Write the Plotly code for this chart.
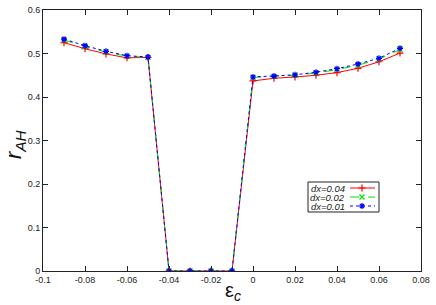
# r_AH against epsilon_c for three grid spacings

import plotly.graph_objects as go

eps_c = [-0.09, -0.08, -0.07, -0.06, -0.05, -0.04, -0.03, -0.02, -0.01,
         0.0, 0.01, 0.02, 0.03, 0.04, 0.05, 0.06, 0.07]

r_dx004 = [0.525, 0.511, 0.499, 0.490, 0.491, 0, 0, 0, 0,
           0.437, 0.443, 0.446, 0.450, 0.456, 0.466, 0.481, 0.501]
r_dx002 = [0.531, 0.516, 0.503, 0.494, 0.491, 0, 0, 0, 0,
           0.445, 0.447, 0.450, 0.455, 0.463, 0.473, 0.487, 0.509]
r_dx001 = [0.533, 0.518, 0.505, 0.495, 0.492, 0, 0, 0, 0,
           0.446, 0.448, 0.451, 0.457, 0.465, 0.476, 0.489, 0.512]

series_names = ["dx=0.04", "dx=0.02", "dx=0.01"]
x_ticks = [-0.1, -0.08, -0.06, -0.04, -0.02, 0, 0.02, 0.04, 0.06, 0.08]
x_labels = ["-0.1", "-0.08", "-0.06", "-0.04", "-0.02", "0", "0.02", "0.04", "0.06", "0.08"]
y_ticks = [0, 0.1, 0.2, 0.3, 0.4, 0.5, 0.6]
y_labels = ["0", "0.1", "0.2", "0.3", "0.4", "0.5", "0.6"]

colors = ["#ff0000", "#00e000", "#0000ff"]
dashes = ["solid", "dash", "dot"]
symbols = ["cross-thin-open", "x-thin-open", "asterisk-open"]

fig = go.Figure()
for ys, name, c, d, s in zip([r_dx004, r_dx002, r_dx001], series_names, colors, dashes, symbols):
    fig.add_trace(go.Scatter(x=eps_c, y=ys, mode="lines+markers", name=name, showlegend=False,
                             line=dict(color=c, width=1, dash=d),
                             marker=dict(symbol=s, size=5, line=dict(color=c, width=1.2))))

# gnuplot-like key: text on the left, sample on the right
# paper coords of the plot area: left 43px, right 421px, top 10px, bottom 271px
def px_x(p):
    return (p - 43) / 378

def px_y(p):
    return (271 - p) / 261

fig.add_shape(type="rect", xref="paper", yref="paper",
              x0=px_x(308), x1=px_x(379), y0=px_y(212), y1=px_y(182),
              line=dict(color="#222222", width=1), fillcolor="white", layer="below")
row_y = [188, 197, 206]
for name, c, d, s, ry in zip(series_names, colors, dashes, symbols, row_y):
    fig.add_annotation(text=name, xref="paper", yref="paper", x=px_x(346), y=px_y(ry),
                       xanchor="right", yanchor="middle", showarrow=False, borderpad=0,
                       font=dict(family="Liberation Sans", size=9.5, style="italic", color="#222222"))
    fig.add_shape(type="line", xref="paper", yref="paper",
                  x0=px_x(350), x1=px_x(375), y0=px_y(ry), y1=px_y(ry),
                  line=dict(color=c, width=1, dash=d), layer="below")
    fig.add_trace(go.Scatter(x=[px_x(362)], y=[px_y(ry)], xaxis="x2", yaxis="y2", mode="markers",
                             showlegend=False, hoverinfo="skip",
                             marker=dict(symbol=s, size=5, color=c, line=dict(color=c, width=1.2))))

axis_style = dict(showgrid=False, zeroline=False, showline=True, linecolor="#222222", linewidth=1,
                  mirror="ticks", ticks="inside", ticklen=5, tickcolor="#222222", automargin=False,
                  tickfont=dict(family="Liberation Sans", size=9, color="#222222"))

fig.update_xaxes(range=[-0.1, 0.08], tickvals=x_ticks, ticktext=x_labels, **axis_style)
fig.update_yaxes(range=[0, 0.6], tickvals=y_ticks, ticktext=y_labels, **axis_style)

fig.add_annotation(text="ε<sub><i>c</i></sub>", xref="paper", yref="paper", x=px_x(233), y=px_y(277),
                   xanchor="center", yanchor="top", showarrow=False,
                   font=dict(family="Liberation Sans", size=20, color="#111111"))
fig.add_annotation(text="<i>r<sub>AH</sub></i>", xref="paper", yref="paper", x=px_x(-1), y=px_y(144),
                   xanchor="left", yanchor="middle", showarrow=False, textangle=-90,
                   font=dict(family="Liberation Sans", size=22, color="#111111"))

fig.update_layout(
    width=436, height=305,
    margin=dict(l=43, r=15, t=10, b=34),
    plot_bgcolor="white", paper_bgcolor="white",
    xaxis2=dict(overlaying="x", range=[0, 1], visible=False),
    yaxis2=dict(overlaying="y", range=[0, 1], visible=False),
)

fig.write_html("out.html", config={"displayModeBar": False},
               post_script="document.body.style.margin='0';")
